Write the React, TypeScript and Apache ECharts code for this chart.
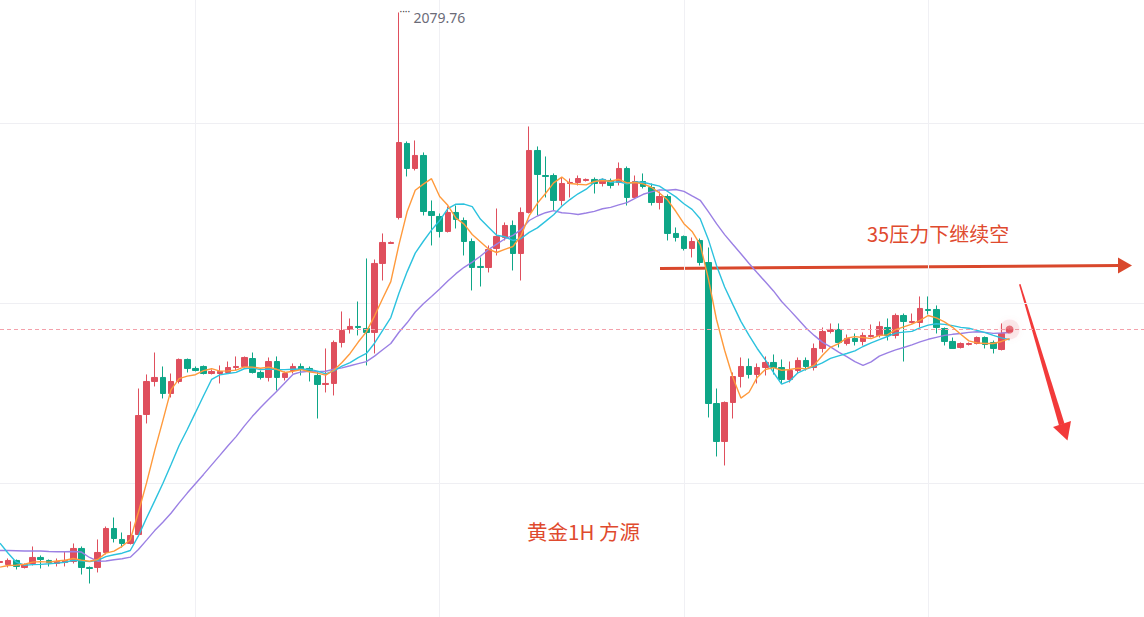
import React, { useEffect, useRef } from "react";
import * as echarts from "echarts";

// hourly categories (x axis), extra empty slots on the right
const categories: string[] = Array.from({ length: 142 }, (_, i) => `H${i}`);

const opens = [
  1988.09, 1987.76, 1988.43, 1987.26, 1987.93, 1988.93, 1988.43, 1987.93, 1988.09, 1988.26,
  1990.43, 1987.26, 1987.26, 1989.76, 1993.76, 1991.93, 1991.26, 1992.76, 2012.76, 2018.26,
  2018.93, 2016.26, 2018.26, 2021.93, 2020.43, 2020.76, 2019.59, 2019.59, 2019.76, 2020.59,
  2020.76, 2022.09, 2019.76, 2018.93, 2021.59, 2018.93, 2020.09, 2020.76, 2020.43, 2019.26,
  2017.76, 2017.93, 2024.76, 2026.93, 2027.43, 2027.09, 2026.43, 2037.93, 2041.26, 2045.59,
  2057.93, 2053.76, 2055.93, 2046.59, 2045.76, 2043.26, 2046.43, 2045.09, 2041.59, 2037.43,
  2037.26, 2040.43, 2042.26, 2044.26, 2039.59, 2046.43, 2056.76, 2052.59, 2052.59, 2048.43,
  2051.26, 2051.43, 2051.76, 2051.93, 2051.26, 2051.76, 2051.43, 2053.76, 2048.93, 2051.59,
  2050.59, 2048.09, 2049.09, 2042.93, 2042.43, 2040.43, 2041.76, 2038.09, 2014.59, 2008.26,
  2014.76, 2019.09, 2020.76, 2019.43, 2020.59, 2021.43, 2020.59, 2018.59, 2020.09, 2021.76,
  2020.59, 2023.76, 2026.59, 2026.93, 2024.59, 2025.43, 2024.93, 2025.76, 2025.93, 2027.26,
  2025.93, 2029.26, 2028.09, 2028.09, 2030.26, 2030.26, 2027.09, 2024.93, 2023.93, 2024.43,
  2024.59, 2025.59, 2024.76, 2023.59, 2026.59,
];

const closes = [
  1988.26, 1988.43, 1987.43, 1987.76, 1988.93, 1988.59, 1988.09, 1988.26, 1988.43, 1990.43,
  1987.26, 1987.09, 1989.76, 1993.76, 1992.09, 1991.26, 1992.59, 2012.59, 2018.26, 2018.93,
  2016.26, 2018.26, 2021.93, 2020.43, 2020.09, 2019.59, 2019.93, 2019.93, 2020.59, 2020.76,
  2022.26, 2019.76, 2018.93, 2021.59, 2018.93, 2019.59, 2020.76, 2020.26, 2019.93, 2017.76,
  2017.93, 2024.76, 2026.76, 2027.43, 2027.26, 2026.43, 2037.93, 2041.43, 2041.43, 2058.09,
  2053.76, 2055.93, 2046.59, 2045.93, 2043.26, 2046.43, 2045.26, 2041.59, 2037.26, 2037.26,
  2040.26, 2042.43, 2044.26, 2039.59, 2046.43, 2056.76, 2052.76, 2052.43, 2048.43, 2051.26,
  2051.43, 2052.09, 2051.93, 2051.26, 2051.93, 2050.93, 2053.76, 2048.93, 2051.59, 2050.76,
  2048.09, 2049.09, 2042.93, 2042.26, 2040.43, 2041.59, 2038.09, 2014.59, 2008.26, 2014.76,
  2019.09, 2020.76, 2019.43, 2020.59, 2021.43, 2020.59, 2018.59, 2020.09, 2021.76, 2020.76,
  2023.76, 2026.59, 2026.93, 2024.76, 2025.43, 2024.93, 2025.93, 2025.93, 2027.43, 2025.93,
  2029.26, 2028.26, 2028.26, 2030.43, 2030.09, 2027.26, 2024.93, 2023.76, 2024.59, 2024.59,
  2025.59, 2024.43, 2023.76, 2026.26, 2026.93,
];

const lows = [
  1987.76, 1987.26, 1986.93, 1987.09, 1987.59, 1987.09, 1987.43, 1987.43, 1987.43, 1987.93,
  1986.09, 1984.59, 1986.43, 1989.43, 1991.43, 1990.59, 1991.09, 1992.43, 2011.26, 2017.43,
  2015.43, 2015.59, 2017.93, 2019.76, 2019.93, 2019.43, 2019.43, 2017.93, 2019.59, 2020.09,
  2020.59, 2019.59, 2018.59, 2018.26, 2016.76, 2018.43, 2019.59, 2019.26, 2018.26, 2012.09,
  2016.43, 2015.93, 2023.93, 2026.26, 2025.93, 2020.93, 2022.93, 2035.09, 2041.26, 2045.26,
  2052.43, 2053.43, 2045.93, 2040.93, 2042.26, 2043.09, 2043.76, 2039.26, 2033.43, 2034.09,
  2036.43, 2039.26, 2041.76, 2036.76, 2035.09, 2046.26, 2045.93, 2048.93, 2046.76, 2047.59,
  2048.93, 2050.93, 2051.59, 2049.59, 2050.76, 2050.43, 2050.93, 2047.59, 2048.76, 2050.43,
  2047.59, 2046.93, 2041.76, 2041.59, 2040.09, 2038.93, 2037.59, 2012.26, 2005.76, 2004.26,
  2012.09, 2017.26, 2018.76, 2017.93, 2019.26, 2019.43, 2017.93, 2018.09, 2019.59, 2020.09,
  2020.09, 2023.09, 2026.26, 2023.93, 2024.26, 2024.26, 2024.26, 2025.59, 2025.59, 2025.09,
  2025.43, 2021.59, 2027.93, 2027.26, 2029.43, 2026.26, 2024.26, 2023.76, 2023.76, 2024.26,
  2024.43, 2023.76, 2022.93, 2023.43, 2026.59,
];

const highs = [
  1988.59, 1988.76, 1988.59, 1987.93, 1990.76, 1989.26, 1988.59, 1988.76, 1989.93, 1991.26,
  1990.76, 1987.43, 1991.93, 1994.09, 1995.59, 1993.09, 1994.93, 2017.09, 2019.43, 2023.09,
  2020.76, 2019.59, 2022.09, 2022.09, 2020.76, 2020.93, 2020.26, 2020.93, 2021.59, 2022.43,
  2022.43, 2023.09, 2020.09, 2022.26, 2022.43, 2019.93, 2021.26, 2021.26, 2020.76, 2019.93,
  2023.76, 2025.09, 2029.93, 2028.76, 2031.59, 2038.76, 2038.59, 2042.93, 2041.59, 2079.76,
  2058.26, 2058.43, 2056.43, 2048.43, 2046.26, 2047.43, 2047.59, 2045.59, 2042.09, 2038.93,
  2040.93, 2047.09, 2044.76, 2045.09, 2047.26, 2060.76, 2057.43, 2055.76, 2052.93, 2052.26,
  2052.09, 2052.59, 2052.09, 2052.26, 2052.09, 2052.09, 2054.76, 2054.09, 2052.59, 2052.93,
  2051.26, 2049.93, 2049.43, 2043.93, 2042.59, 2042.26, 2042.09, 2040.59, 2017.09, 2014.93,
  2019.76, 2022.26, 2022.09, 2021.26, 2022.43, 2022.76, 2021.93, 2021.59, 2022.26, 2022.26,
  2024.59, 2027.26, 2027.93, 2027.93, 2026.09, 2026.26, 2026.43, 2027.76, 2028.26, 2028.76,
  2029.59, 2029.59, 2029.59, 2032.43, 2032.43, 2030.93, 2027.26, 2025.59, 2024.76, 2024.76,
  2025.76, 2025.76, 2025.09, 2027.93, 2027.09,
];

// closes of the 19 hours before the first visible candle (only used for the moving averages)
const priorCloses = [
  1988.43, 1988.09, 1988.76, 1988.43, 1989.26, 1989.76, 1989.09, 1988.43, 1989.26, 1989.26,
  2005.09, 2002.43, 1992.76, 1988.09, 1988.09, 1987.09, 1987.09, 1987.09, 1987.09,
];

const maPeriods = [5, 10, 20];
const maColors = ["#ff9a3c", "#2cc2de", "#9b80e4"];
const gridLineCategories = [24, 54, 84, 114];

const UP = "#df4f5d";
const DOWN = "#0ea687";

// the chart canvas is taller than the window so that grid lines fall on round steps
const OFFSET_Y = 57.5;

function movingAverage(period: number): (number | null)[] {
  const all = priorCloses.concat(closes);
  const off = priorCloses.length;
  return closes.map((_, i) => {
    let s = 0;
    for (let k = 0; k < period; k++) s += all[off + i - k];
    return Math.round((s / period) * 100) / 100;
  });
}

export default function App() {
  const ref = useRef<HTMLDivElement>(null);

  useEffect(() => {
    if (!ref.current) return;
    const chart = echarts.init(ref.current, undefined, { renderer: "svg" });
    const kData = opens.map((o, i) => [o, closes[i], lows[i], highs[i]]);
    const last = closes.length - 1;
    const lastPrice = closes[last];
    const font = '"Noto Sans", "Noto Sans CJK SC", sans-serif';
    const oy = OFFSET_Y;

    const maSeries = maPeriods
      .map((p, idx) => ({
        name: `MA${p}`,
        type: "line",
        data: movingAverage(p),
        symbol: "none",
        smooth: false,
        silent: true,
        z: 3 + (2 - idx),
        lineStyle: { color: maColors[idx], width: 1.4 },
      }))
      .reverse();

    chart.setOption({
      animation: false,
      backgroundColor: "#ffffff",
      grid: { left: 0, right: 0, top: 0, bottom: 0 },
      xAxis: {
        type: "category",
        data: categories,
        boundaryGap: false,
        axisLine: { show: false },
        axisTick: { show: false },
        axisLabel: { show: false },
        splitLine: {
          show: true,
          interval: (index: number) => gridLineCategories.includes(index),
          lineStyle: { color: "#f0f0f4", width: 1 },
        },
      },
      yAxis: {
        type: "value",
        min: 1971.34,
        max: 2091.34,
        interval: 30,
        axisLine: { show: false },
        axisTick: { show: false },
        axisLabel: { show: false },
        splitLine: { show: true, lineStyle: { color: "#efeff3", width: 1 } },
      },
      series: [
        {
          name: "K",
          type: "candlestick",
          data: kData,
          barWidth: 6,
          z: 2,
          itemStyle: {
            color: UP,
            color0: DOWN,
            borderColor: UP,
            borderColor0: DOWN,
            borderWidth: 1,
          },
          markLine: {
            silent: true,
            symbol: "none",
            label: { show: false },
            lineStyle: { color: "#f4a1ab", type: [4, 3], width: 1, opacity: 1 },
            data: [{ yAxis: lastPrice }],
          },
          markPoint: {
            symbol: "circle",
            symbolSize: 1,
            itemStyle: { color: "rgba(0,0,0,0)" },
            silent: true,
            data: [
              {
                type: "max",
                valueDim: "highest",
                label: {
                  show: true,
                  position: "right",
                  distance: 0,
                  formatter: "····",
                  color: "#444",
                  fontSize: 10,
                  fontFamily: font,
                  offset: [0, -1],
                },
              },
              {
                type: "max",
                valueDim: "highest",
                label: {
                  show: true,
                  position: "right",
                  distance: 14,
                  formatter: (p: any) => Number(p.value).toFixed(2),
                  color: "#6b6b78",
                  fontSize: 14,
                  fontFamily: font,
                  offset: [0, 5],
                },
              },
            ],
          },
        },
        ...maSeries,
        {
          name: "glow",
          type: "scatter",
          silent: true,
          z: 8,
          data: [[last, lastPrice]],
          symbolSize: 20,
          itemStyle: { color: "rgba(226,85,99,0.16)", shadowBlur: 6, shadowColor: "rgba(226,85,99,0.3)" },
        },
        {
          name: "dot",
          type: "scatter",
          silent: true,
          z: 9,
          data: [[last, lastPrice]],
          symbolSize: 8,
          itemStyle: { color: "#e0525f" },
        },
      ],
      graphic: [
        {
          type: "line",
          silent: true,
          shape: { x1: 660, y1: 268 + oy, x2: 1120, y2: 265 + oy },
          style: { stroke: "#d9482c", lineWidth: 3 },
        },
        {
          type: "polygon",
          silent: true,
          shape: { points: [[1118, 257 + oy], [1132, 265 + oy], [1118, 273 + oy]] },
          style: { fill: "#d9482c" },
        },
        {
          type: "polygon",
          silent: true,
          shape: {
            points: [[1019, 284 + oy], [1020.5, 283.5 + oy], [1064.5, 423 + oy], [1059, 425 + oy]],
          },
          style: { fill: "#f23a3a" },
        },
        {
          type: "polygon",
          silent: true,
          shape: { points: [[1053, 426.5 + oy], [1071, 420.5 + oy], [1067.5, 440 + oy]] },
          style: { fill: "#f23a3a" },
        },
        {
          type: "text",
          silent: true,
          x: 867,
          y: 233 + oy,
          style: {
            text: "35压力下继续空",
            fill: "#df4a2e",
            fontSize: 20,
            fontFamily: '"Noto Sans CJK SC", sans-serif',
            verticalAlign: "middle",
          },
        },
        {
          type: "text",
          silent: true,
          x: 527,
          y: 530 + oy,
          style: {
            text: "黄金1H 方源",
            fill: "#df4a2e",
            fontSize: 20.5,
            fontFamily: '"Noto Sans CJK SC", sans-serif',
            verticalAlign: "middle",
          },
        },
      ],
    });

    return () => chart.dispose();
  }, []);

  return (
    <div
      ref={ref}
      style={{
        position: "fixed",
        left: 0,
        top: -OFFSET_Y,
        width: 1148,
        height: 720,
        background: "#fff",
      }}
    />
  );
}
